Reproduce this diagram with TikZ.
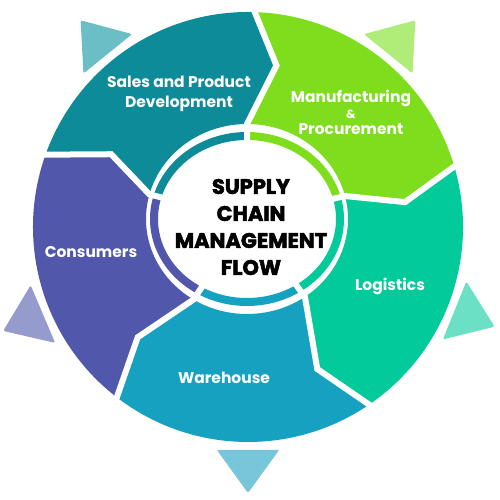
\documentclass[tikz,border=0pt]{standalone}
\usepackage{fontspec}
\setmainfont{Poppins}
\newfontfamily\titlefont{Poppins}[BoldFeatures={FakeBold=2.5}]
\usetikzlibrary{calc}
\definecolor{salescol}{HTML}{0E8B98}
\definecolor{manucol}{HTML}{7EDD1C}
\definecolor{logcol}{HTML}{03CA9A}
\definecolor{warecol}{HTML}{16A1C1}
\definecolor{conscol}{HTML}{5157AA}
\definecolor{salestri}{HTML}{6CBEC6}
\definecolor{manutri}{HTML}{B0EC78}
\definecolor{logtri}{HTML}{6CE0C4}
\definecolor{waretri}{HTML}{78C6DA}
\definecolor{constri}{HTML}{969BCD}
\begin{document}
\begin{tikzpicture}[x=1pt, y=1pt,
    seglabel/.style={text=white, font=\bfseries\fontsize{15.5}{20}\selectfont, align=center},
    titlelabel/.style={text=black, font=\titlefont\bfseries\fontsize{21}{27}\selectfont, align=center},
    gapline/.style={white, line width=6pt},
    tri/.style={rounded corners=2pt},
    ring/.style={line width=8pt}]
    \useasboundingbox (0,0) rectangle (500,500);
    \coordinate (O) at (248, 273);
    \coordinate (I) at (247, 281);

    % Segments
    \fill[salescol] ($(O)+(161:215)$) -- ($(O)+(152:155)$) -- ($(I)+(165:101 and 95)$) arc[start angle=165, end angle=90, x radius=101, y radius=95] -- ($(O)+(80:164)$) -- ($(O)+(89:215)$) arc[start angle=89, end angle=161, radius=215] -- cycle;
    \fill[manucol] ($(O)+(89:215)$) -- ($(O)+(80:164)$) -- ($(I)+(90:101 and 95)$) arc[start angle=90, end angle=14, x radius=101, y radius=95] -- ($(O)+(9:159)$) -- ($(O)+(17:215)$) arc[start angle=17, end angle=89, radius=215] -- cycle;
    \fill[logcol] ($(O)+(17:215)$) -- ($(O)+(9:159)$) -- ($(I)+(14:101 and 95)$) arc[start angle=14, end angle=-55, x radius=101, y radius=95] -- ($(O)+(-64:158)$) -- ($(O)+(-55:215)$) arc[start angle=-55, end angle=17, radius=215] -- cycle;
    \fill[warecol] ($(O)+(-55:215)$) -- ($(O)+(-64:158)$) -- ($(I)+(-55:101 and 95)$) arc[start angle=-55, end angle=-122, x radius=101, y radius=95] -- ($(O)+(-135:156)$) -- ($(O)+(-127:215)$) arc[start angle=-127, end angle=-55, radius=215] -- cycle;
    \fill[conscol] ($(O)+(-127:215)$) -- ($(O)+(-135:156)$) -- ($(I)+(-122:101 and 95)$) arc[start angle=-122, end angle=-195, x radius=101, y radius=95] -- ($(O)+(152:155)$) -- ($(O)+(161:215)$) arc[start angle=161, end angle=233, radius=215] -- cycle;

    % Inner ring
    \draw[ring, salescol] ($(I)+(165:93 and 83)$) arc[start angle=165, end angle=90, x radius=93, y radius=83];
    \draw[ring, manucol] ($(I)+(90:93 and 83)$) arc[start angle=90, end angle=14, x radius=93, y radius=83];
    \draw[ring, logcol] ($(I)+(14:93 and 83)$) arc[start angle=14, end angle=-55, x radius=93, y radius=83];
    \draw[ring, warecol] ($(I)+(-55:93 and 83)$) arc[start angle=-55, end angle=-122, x radius=93, y radius=83];
    \draw[ring, conscol] ($(I)+(-122:93 and 83)$) arc[start angle=-122, end angle=-195, x radius=93, y radius=83];

    % Gaps
    \draw[gapline] ($(O)+(161:222)$) -- ($(O)+(152:155)$) -- ($(I)+(165:101 and 95)$) -- (I);
    \draw[gapline] ($(O)+(89:222)$) -- ($(O)+(80:164)$) -- ($(I)+(90:101 and 95)$) -- (I);
    \draw[gapline] ($(O)+(17:222)$) -- ($(O)+(9:159)$) -- ($(I)+(14:101 and 95)$) -- (I);
    \draw[gapline] ($(O)+(-55:222)$) -- ($(O)+(-64:158)$) -- ($(I)+(-55:101 and 95)$) -- (I);
    \draw[gapline] ($(O)+(-127:222)$) -- ($(O)+(-135:156)$) -- ($(I)+(-122:101 and 95)$) -- (I);

    % Triangles
    \fill[salestri, tri] ($(O)+(137:225)$) -- ($(O)+(129:266)$) -- ($(O)+(121:225)$) -- cycle;
    \fill[manutri, tri] ($(O)+(59:225)$) -- ($(O)+(51:266)$) -- ($(O)+(43:225)$) -- cycle;
    \fill[logtri, tri] ($(O)+(-14:225)$) -- ($(O)+(-22:266)$) -- ($(O)+(-30:225)$) -- cycle;
    \fill[waretri, tri] ($(O)+(-82:225)$) -- ($(O)+(-90:266)$) -- ($(O)+(-98:225)$) -- cycle;
    \fill[constri, tri] ($(O)+(-149:225)$) -- ($(O)+(-157:266)$) -- ($(O)+(-165:225)$) -- cycle;

    % Labels
    \node[seglabel] (sales) at (179, 406) {Sales and Product\\Development};
    \node[seglabel, font=\bfseries\fontsize{15.5}{16}\selectfont] (manu) at (351, 388) {Manufacturing\\{\fontsize{12}{16}\selectfont\&}\\Procurement};
    \node[seglabel] (logistics) at (390, 214) {Logistics};
    \node[seglabel] (warehouse) at (224, 122) {Warehouse};
    \node[seglabel] (consumers) at (91, 248) {Consumers};
    \node[titlelabel] (scm) at (251, 273) {SUPPLY\\CHAIN\\MANAGEMENT\\FLOW};
\end{tikzpicture}
\end{document}
